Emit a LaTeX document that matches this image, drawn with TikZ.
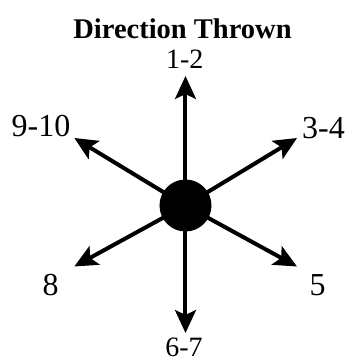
\documentclass[tikz,border=0pt]{standalone}
\usepackage{fontspec}
\setmainfont{Liberation Serif}
\usetikzlibrary{arrows.meta}
\begin{document}
\begin{tikzpicture}[x=1pt,y=1pt,
  arr/.style={line width=4pt,-{Stealth[length=23pt,width=21pt,inset=5pt]}},
  lblsmall/.style={anchor=base,inner sep=0pt,font=\fontsize{28}{31}\selectfont},
  lblbig/.style={anchor=base,inner sep=0pt,font=\fontsize{32}{35}\selectfont},
  ttl/.style={anchor=base,inner sep=0pt,font=\fontsize{28.5}{32}\selectfont\bfseries}]
\useasboundingbox (0,0) rectangle (345,360);
\coordinate (c) at (185.5,154.5);
\coordinate (tu) at (185.5,284);
\coordinate (td) at (185.5,27);
\coordinate (tur) at (297,222);
\coordinate (tlr) at (297,93.5);
\coordinate (tul) at (74.3,222);
\coordinate (tll) at (74.3,93.5);
\draw[arr] (c) -- (tu);
\draw[arr] (c) -- (td);
\draw[arr] (c) -- (tur);
\draw[arr] (c) -- (tlr);
\draw[arr] (c) -- (tul);
\draw[arr] (c) -- (tll);
\node[circle,fill=black,minimum size=52pt,inner sep=0pt] (hub) at (c) {};
\node[ttl] (title) at (182.5,322) {Direction Thrown};
\node[lblsmall] (l12) at (184.7,291.7) {1-2};
\node[lblsmall,text depth=0pt] (l67) at (184,3) {6-7};
\node[lblbig] (l910) at (41,223.3) {9-10};
\node[lblbig] (l34) at (323.5,222) {3-4};
\node[lblbig] (l5) at (317.5,65) {5};
\node[lblbig] (l8) at (50.5,65) {8};
\end{tikzpicture}
\end{document}
